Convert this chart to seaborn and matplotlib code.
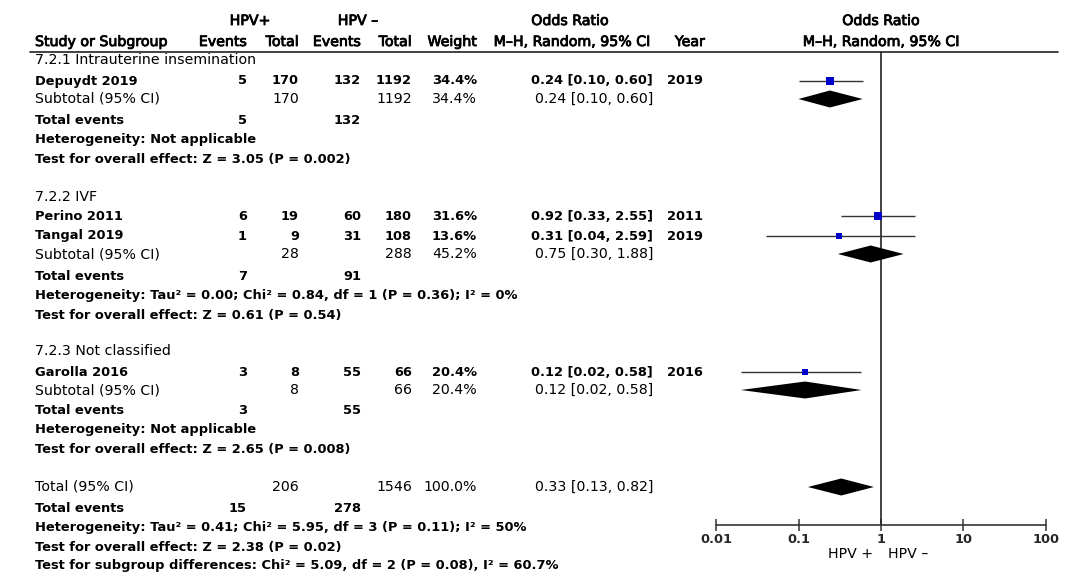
import matplotlib
matplotlib.use("Agg")
import matplotlib.pyplot as plt
import matplotlib.patheffects as pe
import seaborn as sns
import pandas as pd

# --- data ---
studies = ["Depuydt 2019", "Perino 2011", "Tangal 2019", "Garolla 2016"]
ev_pos = [5, 6, 1, 3]
tot_pos = [170, 19, 9, 8]
ev_neg = [132, 60, 31, 55]
tot_neg = [1192, 180, 108, 66]
weight = [34.4, 31.6, 13.6, 20.4]
odds = [0.24, 0.92, 0.31, 0.12]
ci_lo = [0.10, 0.33, 0.04, 0.02]
ci_hi = [0.60, 2.55, 2.59, 0.58]
years = [2019, 2011, 2019, 2016]

subgroups = ["7.2.1 Intrauterine insemination", "7.2.2 IVF", "7.2.3 Not classified"]
sub_tot_pos = [170, 28, 8]
sub_tot_neg = [1192, 288, 66]
sub_weight = [34.4, 45.2, 20.4]
sub_odds = [0.24, 0.75, 0.12]
sub_lo = [0.10, 0.30, 0.02]
sub_hi = [0.60, 1.88, 0.58]
sub_ev_pos = [5, 7, 3]
sub_ev_neg = [132, 91, 55]
sub_het = ["Heterogeneity: Not applicable",
           "Heterogeneity: Tau\u00b2 = 0.00; Chi\u00b2 = 0.84, df = 1 (P = 0.36); I\u00b2 = 0%",
           "Heterogeneity: Not applicable"]
sub_test = ["Test for overall effect: Z = 3.05 (P = 0.002)",
            "Test for overall effect: Z = 0.61 (P = 0.54)",
            "Test for overall effect: Z = 2.65 (P = 0.008)"]

total_pos, total_neg = 206, 1546
total_odds, total_lo, total_hi = 0.33, 0.13, 0.82
total_ev_pos, total_ev_neg = 15, 278
total_het = "Heterogeneity: Tau\u00b2 = 0.41; Chi\u00b2 = 5.95, df = 3 (P = 0.11); I\u00b2 = 50%"
total_test = "Test for overall effect: Z = 2.38 (P = 0.02)"
subgroup_test = "Test for subgroup differences: Chi\u00b2 = 5.09, df = 2 (P = 0.08), I\u00b2 = 60.7%"

# --- layout (pixel rows / right edges of columns) ---
study_y = [81, 216, 236, 372]
head_y = [60, 197, 351]
subtot_y = [99, 254, 390]
events_y = [120, 276, 410]
het_y = [140, 295, 430]
test_y = [159, 315, 450]
total_y, tot_events_y, tot_het_y, tot_test_y, sg_test_y = 487, 509, 528, 547, 566

x_name, x_evp, x_totp, x_evn, x_totn, x_w, x_or, x_year = 35, 247, 299, 361, 412, 477, 653, 703

sns.set_theme(style="white")
plt.rcParams['font.family'] = ['DejaVu Sans']
FS_REG = 10.2
FS_BOLD = 9.4
HEAD_FX = [pe.withStroke(linewidth=0.6, foreground="black")]

fig = plt.figure(figsize=(10.65, 5.86), dpi=100)
tab = fig.add_axes([0, 0, 1, 1])
tab.set_xlim(0, 1065)
tab.set_ylim(586, 0)
tab.axis("off")


def put(x, y, s, ha="right", bold=False, head=False):
    t = tab.text(x, y, s, ha=ha, va="center",
                 fontsize=FS_BOLD if bold else FS_REG,
                 fontweight="bold" if bold else "normal", color="black")
    if head:
        t.set_path_effects(HEAD_FX)
    return t


# header
put(250, 21, "HPV+", ha="center", head=True)
put(358, 21, "HPV \u2013", ha="center", head=True)
put(570, 21, "Odds Ratio", ha="center", head=True)
put(881, 21, "Odds Ratio", ha="center", head=True)
put(x_name, 42, "Study or Subgroup", ha="left", head=True)
for x, s in [(x_evp, "Events"), (x_totp, "Total"), (x_evn, "Events"), (x_totn, "Total"),
             (x_w, "Weight"), (650, "M\u2013H, Random, 95% CI"), (705, "Year")]:
    put(x, 42, s, head=True)
put(881, 42, "M\u2013H, Random, 95% CI", ha="center", head=True)
tab.plot([30, 1058], [52, 52], color="#333333", lw=1.3)

groups = [[0], [1, 2], [3]]
for g, name in enumerate(subgroups):
    put(x_name, head_y[g], name, ha="left")
    for i in groups[g]:
        y = study_y[i]
        put(x_name, y, studies[i], ha="left", bold=True)
        put(x_evp, y, str(ev_pos[i]), bold=True)
        put(x_totp, y, str(tot_pos[i]), bold=True)
        put(x_evn, y, str(ev_neg[i]), bold=True)
        put(x_totn, y, str(tot_neg[i]), bold=True)
        put(x_w, y, f"{weight[i]:.1f}%", bold=True)
        put(x_or, y, f"{odds[i]:.2f} [{ci_lo[i]:.2f}, {ci_hi[i]:.2f}]", bold=True)
        put(x_year, y, str(years[i]), bold=True)
    y = subtot_y[g]
    put(x_name, y, "Subtotal (95% CI)", ha="left")
    put(x_totp, y, str(sub_tot_pos[g]))
    put(x_totn, y, str(sub_tot_neg[g]))
    put(x_w, y, f"{sub_weight[g]:.1f}%")
    put(x_or, y, f"{sub_odds[g]:.2f} [{sub_lo[g]:.2f}, {sub_hi[g]:.2f}]")
    put(x_name, events_y[g], "Total events", ha="left", bold=True)
    put(x_evp, events_y[g], str(sub_ev_pos[g]), bold=True)
    put(x_evn, events_y[g], str(sub_ev_neg[g]), bold=True)
    put(x_name, het_y[g], sub_het[g], ha="left", bold=True)
    put(x_name, test_y[g], sub_test[g], ha="left", bold=True)

put(x_name, total_y, "Total (95% CI)", ha="left")
put(x_totp, total_y, str(total_pos))
put(x_totn, total_y, str(total_neg))
put(x_w, total_y, "100.0%")
put(x_or, total_y, f"{total_odds:.2f} [{total_lo:.2f}, {total_hi:.2f}]")
put(x_name, tot_events_y, "Total events", ha="left", bold=True)
put(x_evp, tot_events_y, str(total_ev_pos), bold=True)
put(x_evn, tot_events_y, str(total_ev_neg), bold=True)
put(x_name, tot_het_y, total_het, ha="left", bold=True)
put(x_name, tot_test_y, total_test, ha="left", bold=True)
put(x_name, sg_test_y, subgroup_test, ha="left", bold=True)

# --- forest panel ---
top, bottom = 52, 525
fp = fig.add_axes([716 / 1065, (586 - bottom) / 586, 330 / 1065, (bottom - top) / 586])
fp.patch.set_alpha(0)
fp.set_xscale("log")
fp.set_xlim(0.01, 100)
fp.set_ylim(bottom, top)
for side in ["left", "top", "right"]:
    fp.spines[side].set_visible(False)
fp.spines["bottom"].set_color("#333333")
fp.spines["bottom"].set_linewidth(1.2)
fp.set_xticks([0.01, 0.1, 1, 10, 100])
fp.set_xticklabels(["0.01", "0.1", "1", "10", "100"], fontweight="bold", fontsize=FS_BOLD)
fp.minorticks_off()
fp.tick_params(axis="x", direction="inout", length=9, width=1.1, color="#333333", pad=1,
               bottom=True)
fp.set_yticks([])
fp.axvline(1, color="#222222", lw=1.2, zorder=1)

df = pd.DataFrame({"study": studies, "odds": odds, "lo": ci_lo, "hi": ci_hi,
                   "weight": weight, "y": study_y})
fp.hlines(df["y"], df["lo"], df["hi"], color="#333333", lw=1.0, zorder=2)
sns.scatterplot(data=df, x="odds", y="y", size="weight", sizes=(14, 36),
                size_norm=(13.6, 34.4), marker="s", color="#0000cc", edgecolor="none",
                legend=False, ax=fp, zorder=3)
fp.set_xlabel("")
fp.set_ylabel("")


def diamond(y, c, lo, hi, h=8.5):
    fp.fill([lo, c, hi, c], [y, y - h, y, y + h], color="black", lw=0, zorder=3)


for g in range(3):
    diamond(subtot_y[g], sub_odds[g], sub_lo[g], sub_hi[g])
diamond(total_y, total_odds, total_lo, total_hi)

put(873, 554, "HPV +")
put(888, 554, "HPV \u2013", ha="left")

fig.savefig("out.png", dpi=100)
